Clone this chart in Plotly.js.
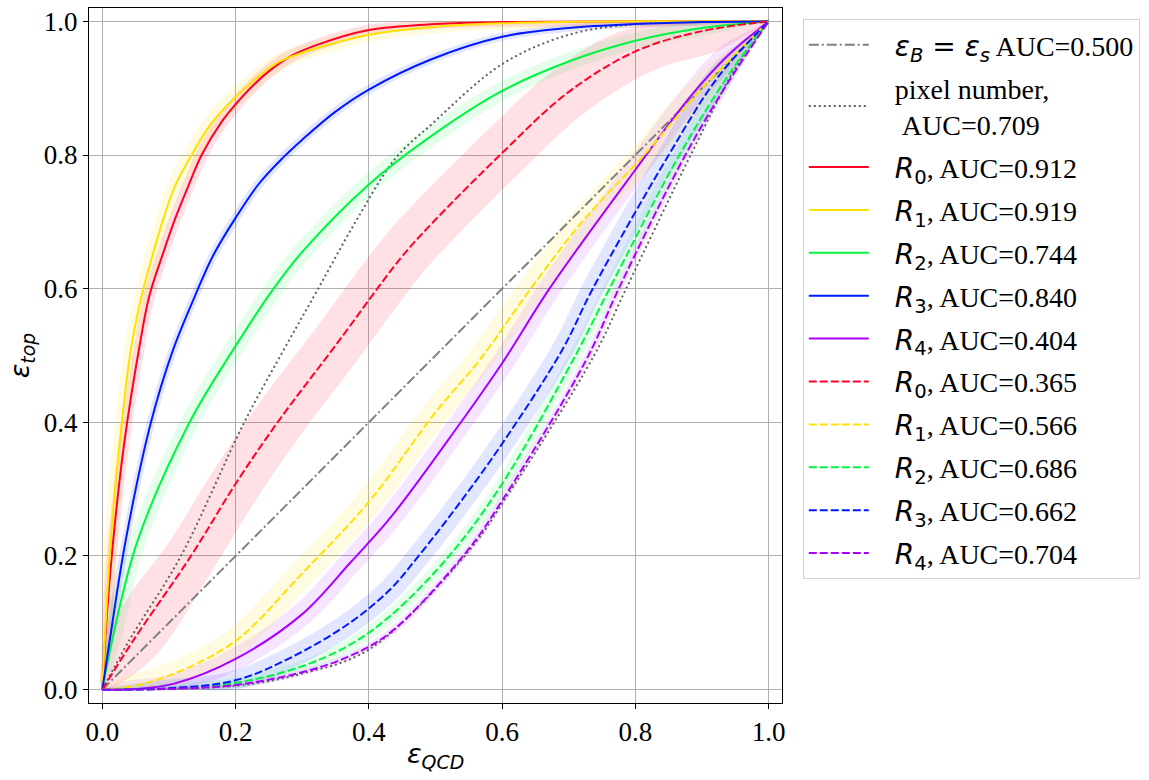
<!DOCTYPE html>
<html>
<head>
<meta charset="utf-8">
<script src="https://cdn.plot.ly/plotly-3.0.1.min.js"></script>
<style>
html,body{margin:0;padding:0;background:#fff;}
#chart{width:1149px;height:780px;}
#chart .xtick text, #chart .ytick text, #chart .xtick tspan, #chart .ytick tspan {
  font-family: 'Liberation Serif', serif !important; font-size: 27px !important;
}
</style>
</head>
<body>
<div id="chart"></div>
<script>
// ---- data ----
const diagX = [0, 1];
const diagY = [0, 1];

const pixUX = [0,0.04,0.118,0.213,0.272,0.324,0.38,0.44,0.493,0.6,0.7,0.8,0.9,1];
const pixUY = [0,0.073,0.2,0.4,0.508,0.6,0.7,0.795,0.845,0.936,0.98,0.996,0.999,1];
const pixLX = [0,0.2,0.3,0.4,0.548,0.603,0.738,0.786,0.883,0.95,1];
const pixLY = [0,0.006,0.024,0.06,0.205,0.283,0.5,0.6,0.8,0.93,1];

const r0sX = [0,0.006,0.016,0.033,0.056,0.0705,0.0915,0.109,0.129,0.149,0.18,0.2,0.225,0.252,0.281,0.32,0.4,0.5,0.6,0.8,1];
const r0sY = [0,0.1,0.22,0.37,0.515,0.589,0.654,0.704,0.7535,0.8,0.851,0.876,0.903,0.927,0.947,0.964,0.987,0.996,0.999,1,1];
const r1sX = [0,0.005,0.0125,0.026,0.043,0.059,0.0765,0.0915,0.109,0.134,0.164,0.2,0.24,0.2665,0.3,0.35,0.4,0.5,0.6,0.8,1];
const r1sY = [0,0.1,0.22,0.37,0.51,0.589,0.654,0.704,0.7535,0.8,0.848,0.887,0.922,0.94,0.953,0.968,0.98,0.992,0.997,1,1];
const r2sX = [0,0.0145,0.053,0.131,0.196,0.257,0.3,0.4,0.493,0.6,0.7,0.8,0.9,1];
const r2sY = [0,0.073,0.223,0.4,0.508,0.6,0.655,0.756,0.828,0.896,0.94,0.971,0.99,1];
const r3sX = [0,0.011,0.035,0.073,0.106,0.139,0.1665,0.2,0.235,0.27,0.3,0.35,0.4,0.493,0.6,0.7,0.8,0.9,1];
const r3sY = [0,0.073,0.223,0.4,0.508,0.589,0.65,0.706,0.757,0.795,0.823,0.865,0.898,0.943,0.977,0.99,0.996,0.999,1];
const r4sX = [0,0.05,0.108,0.2,0.3,0.373,0.433,0.533,0.603,0.671,0.8,0.883,0.94,1];
const r4sY = [0,0.001,0.009,0.046,0.113,0.191,0.258,0.393,0.493,0.6,0.778,0.888,0.95,1];

const r0dX = [0,0.046,0.133,0.2,0.263,0.35,0.448,0.493,0.6,0.698,0.8,0.898,1];
const r0dY = [0,0.073,0.2,0.308,0.4,0.515,0.646,0.696,0.803,0.893,0.955,0.985,1];
const r1dX = [0,0.05,0.108,0.2,0.3,0.4,0.5,0.566,0.643,0.72,0.813,0.9,1];
const r1dY = [0,0.006,0.024,0.073,0.174,0.281,0.415,0.493,0.6,0.7,0.8,0.9,1];
const r2dX = [0,0.1,0.2,0.3,0.373,0.433,0.523,0.6,0.71,0.761,0.866,0.94,1];
const r2dY = [0,0.0015,0.01,0.035,0.068,0.111,0.203,0.308,0.5,0.6,0.8,0.92,1];
const r3dX = [0,0.1,0.2,0.283,0.373,0.433,0.473,0.533,0.6,0.69,0.736,0.85,0.925,1];
const r3dY = [0,0.002,0.014,0.048,0.101,0.151,0.198,0.275,0.368,0.508,0.6,0.8,0.918,1];
const r4dX = [0,0.1,0.2,0.3,0.373,0.433,0.548,0.6,0.726,0.775,0.875,0.94,1];
const r4dY = [0,0.001,0.007,0.026,0.051,0.086,0.208,0.283,0.493,0.6,0.8,0.91,1];

// uncertainty band half-widths
const bandSolid = [0.007, 0.009, 0.010, 0.005, 0.012];
const bandDashed = [0.028, 0.014, 0.007, 0.012, 0.004];

const aucSolid = ['0.912','0.919','0.744','0.840','0.404'];
const aucDashed = ['0.365','0.566','0.686','0.662','0.704'];
const aucDiag = '0.500';
const aucPix = '0.709';

const colors = ['#ff0029','#ffe100','#00f540','#001aff','#a800ff'];
const bandColors = ['rgba(255,0,41,0.12)','rgba(255,225,0,0.12)','rgba(0,245,64,0.10)','rgba(0,26,255,0.11)','rgba(168,0,255,0.10)'];

const tickVals = [0, 0.2, 0.4, 0.6, 0.8, 1.0];
const tickText = ['0.0','0.2','0.4','0.6','0.8','1.0'];

// ---- build traces ----
const solidX = [r0sX, r1sX, r2sX, r3sX, r4sX];
const solidY = [r0sY, r1sY, r2sY, r3sY, r4sY];
const dashedX = [r0dX, r1dX, r2dX, r3dX, r4dX];
const dashedY = [r0dY, r1dY, r2dY, r3dY, r4dY];

const PAD = '&nbsp;&nbsp;&nbsp;';
const DV = "font-family:'DejaVu Sans'";
const SERIF = "font-family:'Liberation Serif';font-size:27px";
function rLabel(i, auc) {
  return `${PAD}<span style="${DV}"><i>R</i><sub>${i}</sub></span>, AUC=${auc}`;
}
function clamp(v) { return Math.max(0, Math.min(1, v)); }
function band(xs, ys, d, color, group) {
  const ux = [], uy = [], lx = [], ly = [];
  const n = xs.length;
  for (let k = 0; k < n; k++) {
    if (k === 0 || k === n - 1) {
      ux.push(xs[k]); uy.push(ys[k]); lx.push(xs[k]); ly.push(ys[k]);
    } else {
      ux.push(clamp(xs[k] - d)); uy.push(clamp(ys[k] + d));
      lx.push(clamp(xs[k] + d)); ly.push(clamp(ys[k] - d));
    }
  }
  return {
    x: ux.concat(lx.slice().reverse()),
    y: uy.concat(ly.slice().reverse()),
    type: 'scatter', mode: 'lines', fill: 'toself', fillcolor: color,
    line: {width: 0, color: 'rgba(0,0,0,0)', shape: 'spline', smoothing: 1}, hoverinfo: 'skip',
    showlegend: false, legendgroup: group
  };
}

const SM = 1.0;
const traces = [];
for (let i = 0; i < 5; i++) traces.push(band(solidX[i], solidY[i], bandSolid[i], bandColors[i], 's' + i));
for (let i = 0; i < 5; i++) traces.push(band(dashedX[i], dashedY[i], bandDashed[i], bandColors[i], 'd' + i));

traces.push({
  x: diagX, y: diagY, type: 'scatter', mode: 'lines', legendgroup: 'diag',
  name: `${PAD}<span style="${DV}"><i>ε<sub>B</sub></i> = <i>ε<sub>s</sub></i></span> AUC=${aucDiag}`,
  line: {color: '#808080', width: 2, dash: '10px,3px,2px,3px'}
});
traces.push({
  x: pixUX, y: pixUY, type: 'scatter', mode: 'lines', legendgroup: 'pix',
  name: `${PAD}pixel number,<br>${PAD}&nbsp;AUC=${aucPix}`,
  line: {color: '#606060', width: 2, dash: '2px,3px', shape: 'spline', smoothing: SM}
});
traces.push({
  x: pixLX, y: pixLY, type: 'scatter', mode: 'lines', legendgroup: 'pix', showlegend: false,
  line: {color: '#606060', width: 2, dash: '2px,3px', shape: 'spline', smoothing: SM}
});
for (let i = 0; i < 5; i++) {
  traces.push({
    x: solidX[i], y: solidY[i], type: 'scatter', mode: 'lines', legendgroup: 's' + i,
    name: rLabel(i, aucSolid[i]),
    line: {color: colors[i], width: 2, shape: 'spline', smoothing: SM}
  });
}
for (let i = 0; i < 5; i++) {
  traces.push({
    x: dashedX[i], y: dashedY[i], type: 'scatter', mode: 'lines', legendgroup: 'd' + i,
    name: rLabel(i, aucDashed[i]),
    line: {color: colors[i], width: 2, dash: '8px,3px', shape: 'spline', smoothing: SM}
  });
}

function axis() {
  return {
    range: [-0.02, 1.02], tickmode: 'array', tickvals: tickVals,
    ticktext: tickText.map(t => `<span style="${SERIF}">${t}</span>`),
    showgrid: true, gridcolor: '#b0b0b0', gridwidth: 1,
    zeroline: false, showline: true, linecolor: '#000', linewidth: 1, mirror: true,
    ticks: 'outside', ticklen: 5, tickcolor: '#000', tickwidth: 1,
    tickfont: {family: 'Liberation Serif', size: 27, color: '#000'},
    automargin: false
  };
}

const titleFont = {family: 'DejaVu Sans', size: 27, color: '#000'};
const layout = {
  width: 1149, height: 780,
  margin: {l: 89, r: 367, t: 8, b: 77},
  paper_bgcolor: '#fff', plot_bgcolor: '#fff',
  font: {family: 'Liberation Serif', size: 27, color: '#000'},
  xaxis: axis(),
  yaxis: axis(),
  annotations: [
    {text: '<i>ε<sub>QCD</sub></i>', xref: 'paper', yref: 'paper', x: 0.5, y: -0.076,
     xanchor: 'center', yanchor: 'middle', showarrow: false, font: titleFont},
    {text: '<i>ε<sub>top</sub></i>', xref: 'paper', yref: 'paper', x: -0.097, y: 0.5,
     xanchor: 'center', yanchor: 'middle', textangle: -90, showarrow: false, font: titleFont}
  ],
  legend: {
    x: 1.03, y: 0.984, xanchor: 'left', yanchor: 'top',
    font: {family: 'Liberation Serif', size: 28, color: '#000'},
    bgcolor: '#fff', bordercolor: '#d0d0d0', borderwidth: 1,
    traceorder: 'grouped', tracegroupgap: 3.5, itemwidth: 60
  },
  showlegend: true
};

Plotly.newPlot('chart', traces, layout, {displayModeBar: false, staticPlot: true});
</script>
</body>
</html>
